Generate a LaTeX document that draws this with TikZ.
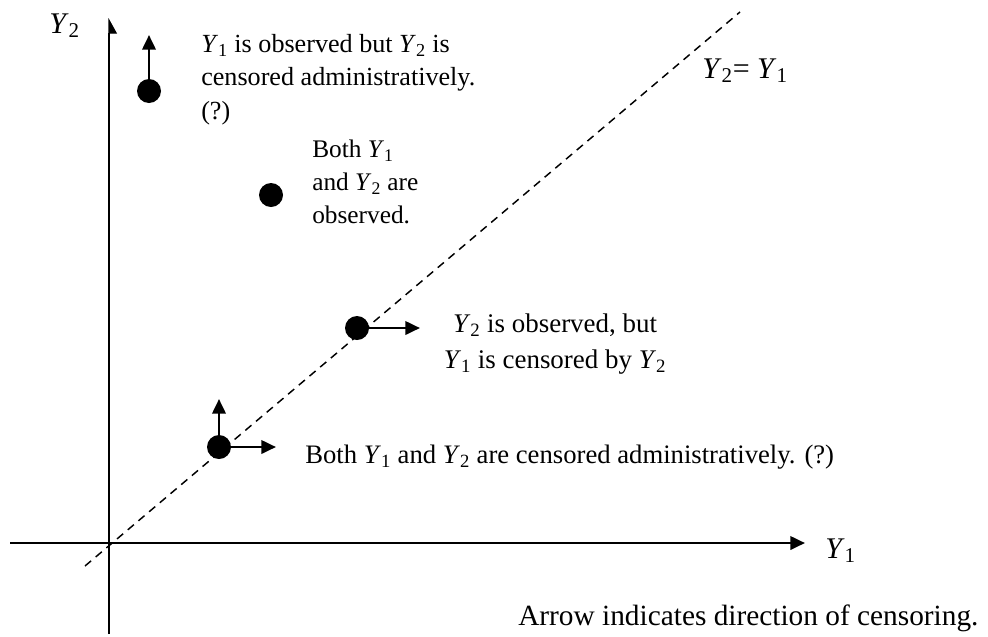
\documentclass[tikz,border=0pt]{standalone}
\usepackage{fontspec}
\setmainfont{Liberation Serif}
\usetikzlibrary{arrows.meta, positioning}
\newcommand{\Yv}[1]{\textit{Y}\textsubscript{#1}}

\begin{document}
\begin{tikzpicture}[x=0.75pt, y=-0.75pt, font=\fontsize{20}{25}\selectfont,
        >={Triangle[length=11pt, width=10pt]},
        dot/.style={circle, fill=black, minimum size=18pt, inner sep=0pt},
        cens/.style={->, line width=2pt},
        axis/.style={line width=2pt},
        txt/.style={inner sep=0pt, anchor=base west, align=left},
        big/.style={font=\fontsize{22.5}{25}\selectfont}]
        \useasboundingbox (0,0) rectangle (988,636);

        % Axes
        \coordinate (xstart) at (10,543);
        \coordinate (xend) at (805,543);
        \coordinate (ybot) at (109,634);
        \coordinate (ymid) at (109,63);
        \coordinate (ytop) at (109,18);
        \draw[axis, ->] (xstart) -- (xend);
        \draw[axis] (ybot) -- (ymid);
        \draw[line width=0.8pt, -{Triangle[right, length=11pt, width=12pt]}] (ymid) -- (ytop);
        \node[txt, big] (ylab) at (49,33) {\Yv{2}};
        \node[txt, big] (xlab) at (825,558) {\Yv{1}};

        % Diagonal Y2 = Y1
        \coordinate (dlow) at (85,566);
        \coordinate (dhigh) at (740,12);
        \draw[line width=1.1pt, dash pattern=on 6pt off 4.5pt] (dlow) -- (dhigh);
        \node[txt, big] (diag) at (702,78) {\Yv{2}= \Yv{1}};

        % Points
        \node[dot] (p1) at (149,91) {};
        \node[dot] (p2) at (271,195) {};
        \node[dot] (p3) at (357,328) {};
        \node[dot] (p4) at (219,447) {};

        % Censoring arrows
        \coordinate (p1up) at (149,35);
        \coordinate (p3right) at (420,328);
        \coordinate (p4up) at (219,399);
        \coordinate (p4right) at (276,447);
        \draw[cens] (p1) -- (p1up);
        \draw[cens] (p3) -- (p3right);
        \draw[cens] (p4) -- (p4up);
        \draw[cens] (p4) -- (p4right);

        % Labels (multi-line nodes sit on their last baseline)
        \node[txt, font=\fontsize{19.6}{25}\selectfont] (t1) at (201,119) {\Yv{1} is observed but \Yv{2} is\\censored administratively.\\(?)};
        \node[txt, font=\fontsize{19}{24.4}\selectfont] (t2) at (312,223) {Both \Yv{1}\\and \Yv{2} are\\observed.};
        \node[inner sep=0pt, anchor=base, align=center, font=\fontsize{20.2}{27}\selectfont] (t3) at (555,368) {\Yv{2} is observed, but\\\Yv{1} is censored by \Yv{2}};
        \node[txt] (t4) at (305,463) {Both \Yv{1} and \Yv{2} are censored administratively. (?)};
        \node[txt, font=\fontsize{22}{25}\selectfont] (note) at (518,625) {Arrow indicates direction of censoring.};
    \end{tikzpicture}
\end{document}
